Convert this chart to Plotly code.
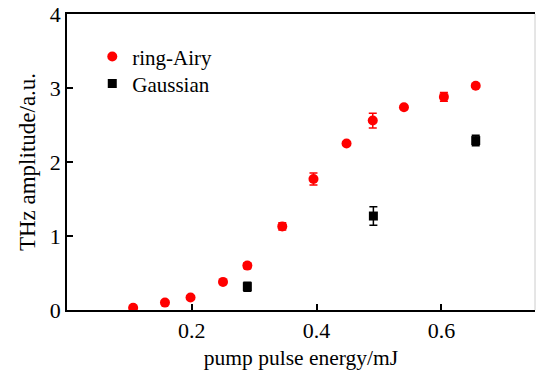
import plotly.graph_objects as go

airy_x = [0.106, 0.157, 0.198, 0.250, 0.289, 0.345, 0.395, 0.448, 0.490, 0.540, 0.604, 0.655]
airy_y = [0.03, 0.10, 0.17, 0.38, 0.60, 1.13, 1.77, 2.25, 2.56, 2.74, 2.88, 3.03]
airy_err = [0.01, 0.02, 0.02, 0.02, 0.04, 0.05, 0.08, 0.02, 0.10, 0.02, 0.06, 0.02]

gauss_x = [0.289, 0.491, 0.655]
gauss_y = [0.315, 1.27, 2.29]
gauss_err = [0.06, 0.125, 0.07]

x_ticks = [0.2, 0.4, 0.6]
y_ticks = [0, 1, 2, 3, 4]

FONT = "Liberation Serif"

fig = go.Figure()
fig.add_trace(go.Scatter(
    x=airy_x, y=airy_y, mode="markers", name="ring-Airy", legend="legend",
    marker=dict(symbol="circle", size=10, color="#ff0000"),
    error_y=dict(type="data", array=airy_err, color="#ff0000", thickness=1.5, width=4),
))
fig.add_trace(go.Scatter(
    x=gauss_x, y=gauss_y, mode="markers", name="Gaussian", legend="legend2",
    marker=dict(symbol="square", size=9, color="#000000"),
    error_y=dict(type="data", array=gauss_err, color="#000000", thickness=1.5, width=4),
))

leg_common = dict(xanchor="left", yanchor="middle", bgcolor="rgba(0,0,0,0)",
                  font=dict(family=FONT, size=21), itemsizing="trace")

fig.update_layout(
    width=536, height=370,
    margin=dict(l=67, r=1, t=14, b=60),
    paper_bgcolor="white", plot_bgcolor="white",
    font=dict(family=FONT, size=22, color="black"),
    showlegend=True,
    legend=dict(x=0.054, y=0.855, **leg_common),
    legend2=dict(x=0.054, y=0.764, **leg_common),
    xaxis=dict(range=[0, 0.75], tickvals=x_ticks, ticktext=[str(v) for v in x_ticks],
               ticks="inside", ticklen=6, tickwidth=1.5, tickcolor="black",
               tickfont=dict(family=FONT, size=22),
               showline=True, linecolor="black", linewidth=1.5, mirror=True,
               showgrid=False, zeroline=False,
               title=dict(text="pump pulse energy/mJ", font=dict(family=FONT, size=21.5), standoff=10)),
    yaxis=dict(range=[0, 4], tickvals=y_ticks, ticktext=[str(v) for v in y_ticks],
               ticks="inside", ticklen=6, tickwidth=1.5, tickcolor="black",
               tickfont=dict(family=FONT, size=22),
               showline=True, linecolor="black", linewidth=1.5,
               showgrid=False, zeroline=False,
               title=dict(text="THz amplitude/a.u.", font=dict(family=FONT, size=23), standoff=8)),
)
fig.add_shape(type="line", xref="paper", yref="paper", x0=1, x1=1, y0=0, y1=1,
              line=dict(color="#cccccc", width=1))

fig.write_html("out.html")
